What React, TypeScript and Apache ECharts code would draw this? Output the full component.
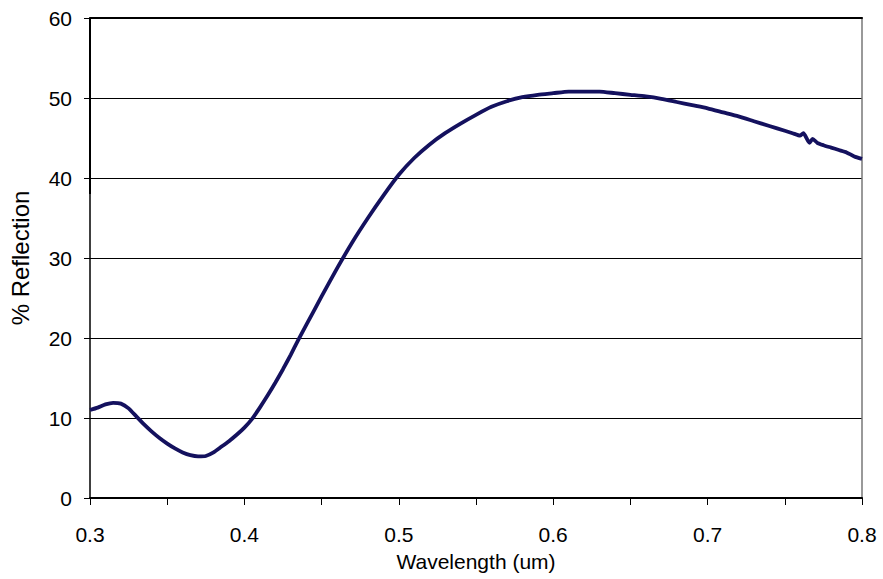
import React, { useEffect, useRef } from "react";
import * as echarts from "echarts";

const wavelengths = [
  0.3, 0.305, 0.31, 0.315, 0.32, 0.325, 0.33, 0.335, 0.34, 0.345, 0.35, 0.355, 0.36, 0.365, 0.37, 0.375,
  0.38, 0.385, 0.39, 0.395, 0.4, 0.405, 0.41, 0.415, 0.42, 0.425, 0.43, 0.435, 0.44, 0.45, 0.46, 0.47,
  0.48, 0.49, 0.5, 0.51, 0.52, 0.53, 0.54, 0.55, 0.56, 0.57, 0.58, 0.59, 0.6, 0.61, 0.62, 0.63, 0.64,
  0.65, 0.66, 0.67, 0.68, 0.69, 0.7, 0.71, 0.72, 0.73, 0.74, 0.75, 0.755, 0.76, 0.762, 0.766, 0.768,
  0.771, 0.775, 0.78, 0.785, 0.79, 0.795, 0.8,
];

const reflection = [
  11.0, 11.3, 11.7, 11.9, 11.8, 11.2, 10.2, 9.2, 8.3, 7.5, 6.8, 6.2, 5.7, 5.35, 5.2, 5.25,
  5.7, 6.4, 7.1, 7.9, 8.8, 9.9, 11.3, 12.8, 14.4, 16.1, 17.9, 19.8, 21.6, 25.2, 28.7, 32.0,
  35.0, 37.8, 40.4, 42.5, 44.2, 45.6, 46.8, 47.9, 48.9, 49.6, 50.1, 50.4, 50.6, 50.8, 50.8, 50.8, 50.6,
  50.4, 50.2, 49.9, 49.5, 49.1, 48.7, 48.2, 47.7, 47.1, 46.5, 45.9, 45.6, 45.3, 45.6, 44.4, 44.9,
  44.4, 44.1, 43.8, 43.5, 43.2, 42.7, 42.4,
];

const edgeX = [0.3, 0.3];
const edgeY = [60, 38];

const xTicks = { min: 0.3, max: 0.8, interval: 0.1 };
const yTicks = { min: 0, max: 60, interval: 10 };

export default function App() {
  const ref = useRef<HTMLDivElement>(null);
  useEffect(() => {
    if (!ref.current) return;
    const chart = echarts.init(ref.current, null, { renderer: "svg" });
    const font = "'Liberation Sans', Arial, sans-serif";
    chart.setOption({
      animation: false,
      backgroundColor: "#ffffff",
      grid: { left: 89, right: 21, top: 18, bottom: 81, containLabel: false },
      xAxis: [
        {
          type: "value",
          min: xTicks.min,
          max: xTicks.max,
          interval: xTicks.interval,
          position: "bottom",
          axisLine: { show: true, onZero: false, lineStyle: { color: "#000", width: 2 } },
          axisTick: { show: true, inside: false, length: 7, lineStyle: { color: "#000", width: 1 } },
          minorTick: { show: true, splitNumber: 2, length: 7, lineStyle: { color: "#000", width: 1 } },
          splitLine: { show: false },
          axisLabel: {
            color: "#000",
            fontSize: 21,
            fontFamily: font,
            margin: 26,
            formatter: (v: number) => v.toFixed(1),
          },
          name: "Wavelength (um)",
          nameLocation: "middle",
          nameGap: 53,
          nameTextStyle: { color: "#000", fontSize: 21, fontFamily: font },
        },
        {
          type: "value",
          min: xTicks.min,
          max: xTicks.max,
          position: "top",
          axisLine: { show: true, onZero: false, lineStyle: { color: "#000", width: 2 } },
          axisTick: { show: false },
          axisLabel: { show: false },
          splitLine: { show: false },
        },
      ],
      yAxis: [
        {
          type: "value",
          min: yTicks.min,
          max: yTicks.max,
          interval: yTicks.interval,
          position: "left",
          axisLine: { show: true, onZero: false, lineStyle: { color: "#000", width: 1.5 } },
          axisTick: { show: true, inside: false, length: 6, lineStyle: { color: "#000", width: 1 } },
          splitLine: { show: true, lineStyle: { color: "#000", width: 1 } },
          axisLabel: { color: "#000", fontSize: 21, fontFamily: font, margin: 18 },
          name: "% Reflection",
          nameLocation: "middle",
          nameRotate: 90,
          nameGap: 58,
          nameTextStyle: { color: "#000", fontSize: 24, fontFamily: font },
        },
        {
          type: "value",
          min: yTicks.min,
          max: yTicks.max,
          position: "right",
          axisLine: { show: true, onZero: false, lineStyle: { color: "#777", width: 1.5 } },
          axisTick: { show: false },
          axisLabel: { show: false },
          splitLine: { show: false },
        },
      ],
      series: [
        {
          type: "line",
          data: edgeX.map((x, i) => [x, edgeY[i]]),
          showSymbol: false,
          lineStyle: { color: "#000", width: 2 },
          silent: true,
          clip: false,
        },
        {
          type: "line",
          data: wavelengths.map((x, i) => [x, reflection[i]]),
          showSymbol: false,
          smooth: 0.2,
          lineStyle: { color: "#14115e", width: 3.8 },
          silent: true,
        },
      ],
    });
    return () => chart.dispose();
  }, []);
  return (
    <div
      ref={ref}
      style={{ position: "absolute", left: 0, top: 0, width: 883, height: 579 }}
    />
  );
}
